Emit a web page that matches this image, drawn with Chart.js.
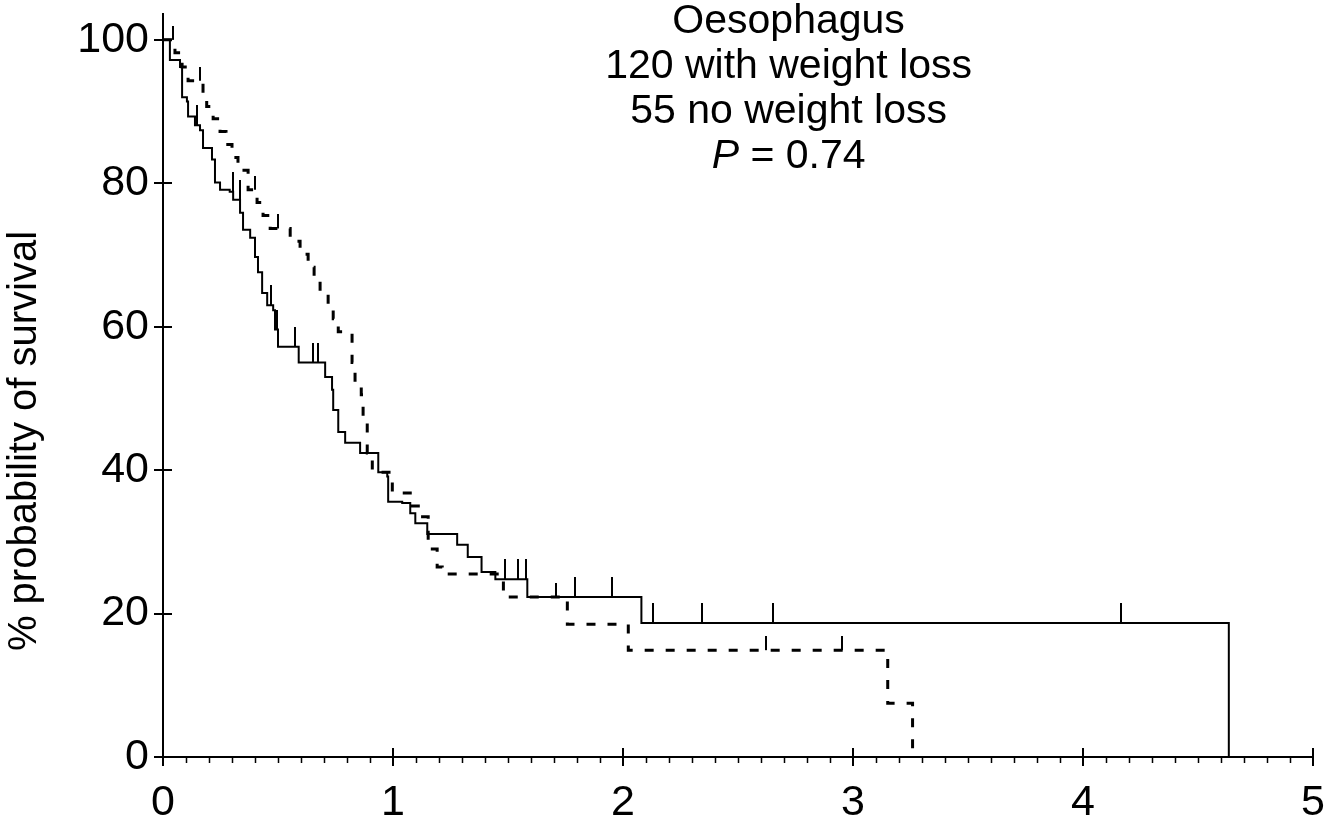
<!DOCTYPE html>
<html>
<head>
<meta charset="utf-8">
<script src="https://cdn.jsdelivr.net/npm/chart.js@4.4.1/dist/chart.umd.min.js"></script>
<style>
html, body { margin: 0; padding: 0; background: #fff; }
canvas { display: block; }
</style>
</head>
<body>
<canvas id="kmChart" width="1325" height="826"></canvas>
<script>
// tick labels
var xTicks = [0, 1, 2, 3, 4, 5];
var yTicks = [0, 20, 40, 60, 80, 100];
var yTitle = '% probability of survival';
var noteLines = ['Oesophagus', '120 with weight loss', '55 no weight loss'];
var noteP = 'P';
var noteValue = ' = 0.74';

// with weight loss (solid) - time in years, % surviving after each step
var lossT = [0, 0.03, 0.074, 0.083, 0.104, 0.109, 0.139, 0.161, 0.174, 0.213, 0.226, 0.248, 0.29, 0.305, 0.335,
    0.348, 0.379, 0.40, 0.413, 0.431, 0.453, 0.479, 0.487, 0.50, 0.59, 0.705, 0.735, 0.74, 0.762, 0.792,
    0.857, 0.936, 0.975, 0.979, 1.04, 1.075, 1.097, 1.149, 1.279, 1.325, 1.385, 1.445, 1.584, 2.08, 4.634];
var lossS = [100, 97.2, 96.2, 92.0, 91.4, 89.3, 88.1, 87.4, 84.9, 83.3, 80.1, 79.1, 78.8, 77.7, 75.9,
    73.5, 72.4, 69.7, 67.6, 64.7, 63.0, 62.3, 59.6, 57.2, 55.0, 53.0, 51.2, 48.4, 45.3, 43.8,
    42.4, 39.7, 39.1, 35.6, 35.4, 34.0, 32.6, 31.1, 29.6, 27.9, 25.8, 24.8, 22.3, 18.7, 0];
var lossCensor = [0.148, 0.305, 0.335, 0.47, 0.496, 0.574, 0.653, 0.674, 1.488, 1.545, 1.58, 1.792, 1.953,
    2.132, 2.345, 2.654, 4.164];

// no weight loss (dashed)
var noLossT = [0, 0.052, 0.083, 0.109, 0.174, 0.19, 0.218, 0.248, 0.274, 0.30, 0.326, 0.37, 0.409, 0.435,
    0.466, 0.553, 0.596, 0.631, 0.657, 0.683, 0.718, 0.74, 0.762, 0.822, 0.835, 0.862, 0.87, 0.888, 0.91,
    0.997, 1.075, 1.11, 1.153, 1.192, 1.214, 1.48, 1.758, 2.023, 3.151, 3.259];
var noLossS = [100, 98.2, 96.2, 94.3, 92.5, 90.7, 89.0, 87.2, 85.4, 83.6, 81.8, 79.1, 77.3, 75.5,
    73.7, 71.9, 70.1, 68.3, 66.5, 64.7, 62.9, 61.1, 59.3, 55.0, 52.0, 50.5, 46.8, 42.4, 39.7,
    36.8, 35.0, 33.5, 29.0, 26.5, 25.5, 22.3, 18.5, 14.9, 7.5, 0];
var noLossCensor = [0.045, 0.16, 0.40, 0.50, 1.71, 2.62, 2.95];

var FONT = '"Liberation Sans", Arial, sans-serif';

function toPoints(ts, ss) {
    var pts = [];
    for (var i = 0; i < ts.length; i++) {
        pts.push({ x: ts[i], y: ss[i] });
    }
    return pts;
}

// survival level just before time t
function levelAt(ts, ss, t) {
    var lv = ss[0];
    for (var i = 0; i < ts.length; i++) {
        if (ts[i] < t) lv = ss[i];
    }
    return lv;
}

function censorPoints(ts, ss, cs) {
    return cs.map(function (t) { return { x: t, y: levelAt(ts, ss, t) }; });
}

// vertical tick sitting on top of the curve
function censorMark(h) {
    var c = document.createElement('canvas');
    c.width = 2;
    c.height = h * 2;
    var g = c.getContext('2d');
    g.fillStyle = '#000';
    g.fillRect(0, 0, 2, h);
    return c;
}

var extras = {
    id: 'extras',
    afterDraw: function (chart) {
        var ctx = chart.ctx;
        var xs = chart.scales.x, ys = chart.scales.y;
        var y0 = ys.getPixelForValue(0);
        var x0 = xs.getPixelForValue(0);
        ctx.save();
        ctx.strokeStyle = '#000';
        // minor ticks every 0.1
        ctx.lineWidth = 1.5;
        ctx.beginPath();
        for (var i = 0; i <= 50; i++) {
            if (i % 10 === 0) continue;
            var px = Math.round(xs.getPixelForValue(i / 10)) + 0.5;
            ctx.moveTo(px, y0);
            ctx.lineTo(px, y0 + 6);
        }
        ctx.stroke();
        // major ticks cross the axes
        ctx.lineWidth = 2;
        ctx.beginPath();
        xTicks.forEach(function (v) {
            var px = Math.round(xs.getPixelForValue(v));
            ctx.moveTo(px, y0 - 9);
            ctx.lineTo(px, y0 + 9);
        });
        yTicks.forEach(function (v) {
            var py = Math.round(ys.getPixelForValue(v));
            ctx.moveTo(x0 - 9, py);
            ctx.lineTo(x0 + 9, py);
        });
        ctx.stroke();

        ctx.fillStyle = '#000';
        ctx.textBaseline = 'middle';

        // y axis title
        ctx.save();
        ctx.translate(25, 441);
        ctx.rotate(-Math.PI / 2);
        ctx.textAlign = 'center';
        ctx.font = '40px ' + FONT;
        ctx.fillText(yTitle, 0, 0);
        ctx.restore();

        // annotation text
        var cx = xs.getPixelForValue(2.72);
        ctx.textAlign = 'center';
        ctx.font = '41px ' + FONT;
        noteLines.forEach(function (s, k) {
            ctx.fillText(s, cx, 22 + k * 45);
        });
        var yP = 22 + 3 * 45;
        ctx.font = 'italic 41px ' + FONT;
        var wP = ctx.measureText(noteP).width;
        ctx.font = '41px ' + FONT;
        var wV = ctx.measureText(noteValue).width;
        var start = cx - (wP + wV) / 2;
        ctx.textAlign = 'left';
        ctx.font = 'italic 41px ' + FONT;
        ctx.fillText(noteP, start, yP);
        ctx.font = '41px ' + FONT;
        ctx.fillText(noteValue, start + wP, yP);
        ctx.restore();
    }
};

Chart.defaults.font.family = FONT;
Chart.defaults.color = '#000';

var ctx = document.getElementById('kmChart');
var chart = new Chart(ctx, {
    type: 'scatter',
    data: {
        datasets: [{
            label: 'with weight loss',
            data: toPoints(lossT, lossS),
            showLine: true,
            stepped: 'before',
            borderColor: '#000',
            borderWidth: 2,
            pointRadius: 0,
            fill: false
        }, {
            label: 'no weight loss',
            data: toPoints(noLossT, noLossS),
            showLine: true,
            stepped: 'before',
            borderColor: '#000',
            borderWidth: 3,
            borderDash: [9, 12],
            pointRadius: 0,
            fill: false
        }, {
            label: 'censored (weight loss)',
            data: censorPoints(lossT, lossS, lossCensor),
            showLine: false,
            pointStyle: censorMark(20)
        }, {
            label: 'censored (no weight loss)',
            data: censorPoints(noLossT, noLossS, noLossCensor),
            showLine: false,
            pointStyle: censorMark(14)
        }]
    },
    options: {
        responsive: false,
        animation: false,
        devicePixelRatio: 1,
        layout: { padding: { top: 14, right: 12, left: 0, bottom: 0 } },
        plugins: {
            legend: { display: false },
            tooltip: { enabled: false }
        },
        scales: {
            x: {
                type: 'linear',
                min: 0,
                max: 5,
                afterBuildTicks: function (axis) {
                    axis.ticks = xTicks.map(function (v) { return { value: v }; });
                },
                afterFit: function (axis) {
                    axis.height = 69;
                    axis.paddingLeft = 0;
                    axis.paddingRight = 0;
                },
                grid: { display: false, drawTicks: false },
                border: { display: true, color: '#000', width: 2 },
                ticks: { font: { size: 43 }, padding: 20, maxRotation: 0 }
            },
            y: {
                type: 'linear',
                min: 0,
                max: 103.6,
                afterBuildTicks: function (axis) {
                    axis.ticks = yTicks.map(function (v) { return { value: v }; });
                },
                afterFit: function (axis) {
                    axis.width = 163;
                    axis.paddingTop = 0;
                    axis.paddingBottom = 0;
                },
                grid: { display: false, drawTicks: false },
                border: { display: true, color: '#000', width: 2 },
                ticks: { font: { size: 43 }, padding: 14 }
            }
        }
    },
    plugins: [extras]
});
</script>
</body>
</html>
